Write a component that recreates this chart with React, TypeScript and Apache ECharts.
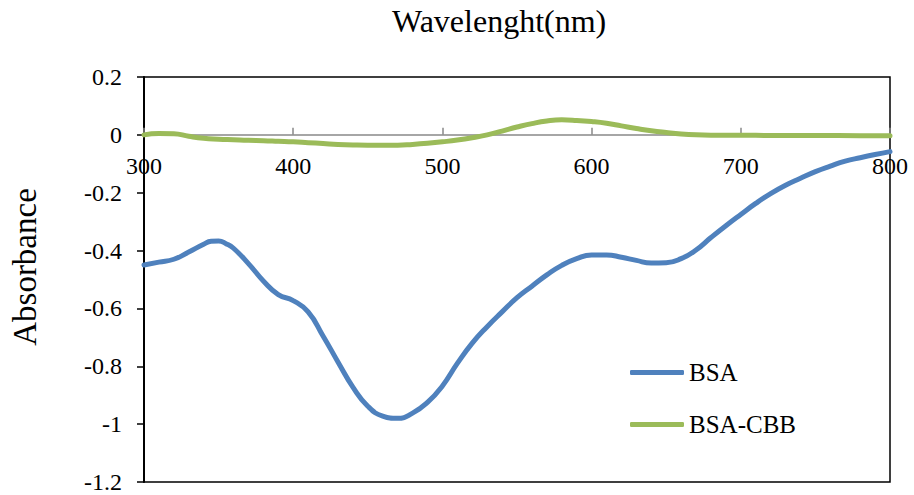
import React, { useEffect, useRef } from "react";
import * as echarts from "echarts";

const bsaX = [300, 310, 320, 330, 340, 345, 350, 355, 360, 370, 380, 390, 400, 410, 420, 430, 440, 450, 460, 470, 480, 490, 500, 510, 520, 530, 540, 550, 560, 570, 580, 590, 600, 610, 620, 630, 640, 650, 660, 670, 680, 690, 700, 710, 720, 730, 740, 750, 760, 770, 780, 790, 800];
const bsaY = [-0.45, -0.44, -0.43, -0.405, -0.378, -0.368, -0.367, -0.376, -0.392, -0.445, -0.505, -0.552, -0.573, -0.612, -0.695, -0.785, -0.872, -0.938, -0.972, -0.98, -0.962, -0.925, -0.868, -0.79, -0.72, -0.663, -0.612, -0.563, -0.523, -0.484, -0.451, -0.428, -0.415, -0.415, -0.423, -0.434, -0.443, -0.442, -0.428, -0.398, -0.355, -0.314, -0.275, -0.237, -0.203, -0.174, -0.15, -0.127, -0.108, -0.091, -0.079, -0.068, -0.058];

const cbbX = [300, 310, 320, 330, 340, 350, 360, 370, 380, 390, 400, 410, 420, 430, 440, 450, 460, 470, 480, 490, 500, 510, 520, 530, 540, 550, 560, 570, 580, 590, 600, 610, 620, 630, 640, 650, 660, 670, 680, 700, 720, 750, 780, 800];
const cbbY = [0, 0.005, 0.004, -0.005, -0.012, -0.015, -0.017, -0.019, -0.02, -0.022, -0.024, -0.027, -0.03, -0.033, -0.035, -0.036, -0.036, -0.036, -0.033, -0.029, -0.024, -0.018, -0.01, 0, 0.013, 0.027, 0.039, 0.048, 0.052, 0.05, 0.046, 0.04, 0.031, 0.022, 0.014, 0.008, 0.003, 0, -0.001, -0.001, -0.002, -0.002, -0.003, -0.003];

const seriesNames = ["BSA", "BSA-CBB"];
const xTitle = "Wavelenght(nm)";
const yTitle = "Absorbance";

const FONT = "Liberation Serif, Times New Roman, serif";

export default function App() {
  const ref = useRef<HTMLDivElement>(null);
  useEffect(() => {
    if (!ref.current) return;
    const chart = echarts.init(ref.current, null, { renderer: "svg" });
    chart.setOption({
      animation: false,
      backgroundColor: "#fff",
      grid: {
        left: 144,
        top: 77,
        width: 746,
        height: 405,
        show: true,
        borderColor: "#000",
        borderWidth: 1.5,
        containLabel: false,
        outerBoundsMode: "none",
      },
      xAxis: {
        type: "value",
        min: 300,
        max: 800,
        interval: 100,
        axisLine: { onZero: true, lineStyle: { color: "#888", width: 1.5 } },
        axisTick: { inside: true, length: 7, lineStyle: { color: "#888", width: 1.5 } },
        axisLabel: { margin: -328, color: "#000", fontSize: 24, fontFamily: FONT, showMinLabel: true, showMaxLabel: true },
        splitLine: { show: false },
      },
      yAxis: {
        type: "value",
        min: -1.2,
        max: 0.2,
        interval: 0.2,
        axisLine: { show: true, lineStyle: { color: "#000", width: 2 } },
        axisTick: { show: true, length: 7, lineStyle: { color: "#000", width: 1.5 } },
        axisLabel: {
          margin: 22,
          color: "#000",
          fontSize: 24,
          fontFamily: FONT,
          formatter: (v: number) => String(Math.round(v * 10) / 10),
        },
        splitLine: { show: false },
      },
      legend: {
        orient: "vertical",
        left: 625,
        top: 355,
        icon: "roundRect",
        itemWidth: 54,
        itemHeight: 5,
        itemGap: 27,
        data: seriesNames,
        textStyle: { fontSize: 25, fontFamily: FONT, color: "#000", padding: [0, 0, 0, 0] },
      },
      graphic: [
        {
          type: "text",
          left: 392,
          top: 5,
          style: { text: xTitle, fontSize: 32, fontFamily: FONT, fill: "#000" },
        },
        {
          type: "text",
          x: 25,
          y: 267,
          rotation: Math.PI / 2,
          style: {
            text: yTitle,
            fontSize: 33,
            fontFamily: FONT,
            fill: "#000",
            align: "center",
            verticalAlign: "middle",
          },
        },
      ],
      series: [
        {
          name: seriesNames[0],
          type: "line",
          smooth: true,
          symbol: "none",
          lineStyle: { color: "#4F81BD", width: 5, cap: "round" },
          itemStyle: { color: "#4F81BD" },
          data: bsaX.map((x, i) => [x, bsaY[i]]),
        },
        {
          name: seriesNames[1],
          type: "line",
          smooth: true,
          symbol: "none",
          lineStyle: { color: "#9BBB59", width: 5, cap: "round" },
          itemStyle: { color: "#9BBB59" },
          data: cbbX.map((x, i) => [x, cbbY[i]]),
        },
      ],
    });
    return () => chart.dispose();
  }, []);
  return <div ref={ref} style={{ width: 914, height: 495, position: "absolute", left: 0, top: 0 }} />;
}
